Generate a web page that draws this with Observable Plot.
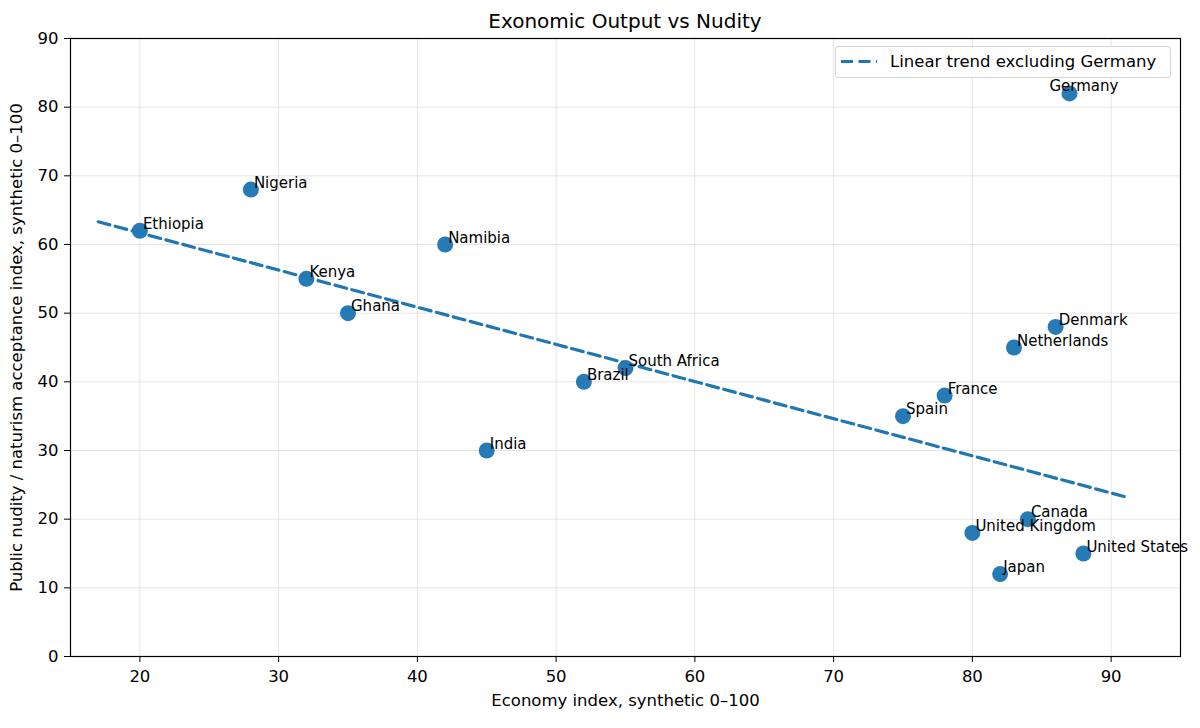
<!DOCTYPE html>
<html>
<head>
<meta charset="utf-8">
<script src="https://cdn.jsdelivr.net/npm/d3@7"></script>
<script src="https://cdn.jsdelivr.net/npm/@observablehq/plot@0.6"></script>
<style>
  body { margin: 0; background: white; font-family: "DejaVu Sans", sans-serif; }
  #wrap { position: relative; width: 1200px; height: 728px; }
  #title { position: absolute; left: 70px; top: 8px; width: 1110px; height: 26px; line-height: 26px; text-align: center; font-size: 20px; color: #000; z-index: 2; }
  #legend { position: absolute; left: 835px; top: 46px; width: 334px; height: 30px; border: 1px solid #d5d5d5; border-radius: 3px; background: rgba(255,255,255,0.85); font-size: 16.5px; z-index: 2; }
  #legend svg { position: absolute; left: 4px; top: 0; }
  #legend span { position: absolute; left: 54px; top: 5px; line-height: 20px; white-space: nowrap; }
  svg.plot { overflow: visible; }
</style>
</head>
<body>
<div id="wrap">
  <div id="title">Exonomic Output vs Nudity</div>
  <div id="chart"></div>
  <div id="legend">
    <svg width="40" height="30"><line x1="1" x2="37" y1="14.5" y2="14.5" stroke="#1f77b4" stroke-width="3.2" stroke-dasharray="12,5.5"></line></svg>
    <span>Linear trend excluding Germany</span>
  </div>
</div>
<script>
const countries = ["Ethiopia","Nigeria","Kenya","Ghana","Namibia","India","Brazil","South Africa","Spain","France","United Kingdom","Japan","Netherlands","Canada","Denmark","Germany","United States"];
const economy = [20, 28, 32, 35, 42, 45, 52, 55, 75, 78, 80, 82, 83, 84, 86, 87, 88];
const nudity  = [62, 68, 55, 50, 60, 30, 40, 42, 35, 38, 18, 12, 45, 20, 48, 82, 15];
const xTicks = [20, 30, 40, 50, 60, 70, 80, 90];
const yTicks = [0, 10, 20, 30, 40, 50, 60, 70, 80, 90];
const excluded = "Germany";

const data = countries.map((c, i) => ({country: c, x: economy[i], y: nudity[i]}));
const fitData = data.filter(d => d.country !== excluded);
const mx = d3.mean(fitData, d => d.x), my = d3.mean(fitData, d => d.y);
const slope = d3.sum(fitData, d => (d.x - mx) * (d.y - my)) / d3.sum(fitData, d => (d.x - mx) ** 2);
const intercept = my - slope * mx;
const [xmin, xmax] = d3.extent(fitData, d => d.x);
const trend = [xmin - 3, xmax + 3].map(x => ({x, y: intercept + slope * x}));

const others = data.filter(d => d.country !== excluded);
const germany = data.filter(d => d.country === excluded);

const chart = Plot.plot({
  width: 1200,
  height: 728,
  marginTop: 38,
  marginLeft: 70,
  marginRight: 20,
  marginBottom: 72,
  style: {fontFamily: "DejaVu Sans, sans-serif", fontSize: "16.5px", color: "#000", background: "white"},
  x: {domain: [15, 95]},
  y: {domain: [0, 90]},
  marks: [
    Plot.gridX(xTicks, {stroke: "#000", strokeOpacity: 0.1}),
    Plot.gridY(yTicks, {stroke: "#000", strokeOpacity: 0.1}),
    Plot.axisX(xTicks, {tickSize: 6, tickPadding: 8, fontSize: 16.5, label: "Economy index, synthetic 0–100", labelAnchor: "center", labelOffset: 49, labelArrow: "none"}),
    Plot.axisY(yTicks, {tickSize: 6, tickPadding: 6, fontSize: 16.5, label: "Public nudity / naturism acceptance index, synthetic 0–100", labelAnchor: "center", labelOffset: 60, labelArrow: "none"}),
    Plot.line(trend, {x: "x", y: "y", stroke: "#1f77b4", strokeWidth: 3.2, strokeDasharray: "12,5.5"}),
    Plot.dot(data, {x: "x", y: "y", r: 8, fill: "#1f77b4", fillOpacity: 0.97}),
    Plot.text(others, {x: "x", y: "y", text: "country", textAnchor: "start", lineAnchor: "bottom", dx: 3, dy: -2, fontSize: 15, fill: "#000"}),
    Plot.text(germany, {x: "x", y: "y", text: "country", textAnchor: "start", lineAnchor: "bottom", dx: -20, dy: -2.5, fontSize: 15, fill: "#000"}),
    Plot.frame({stroke: "#000", strokeWidth: 1.2})
  ]
});
document.getElementById("chart").appendChild(chart);
</script>
</body>
</html>
